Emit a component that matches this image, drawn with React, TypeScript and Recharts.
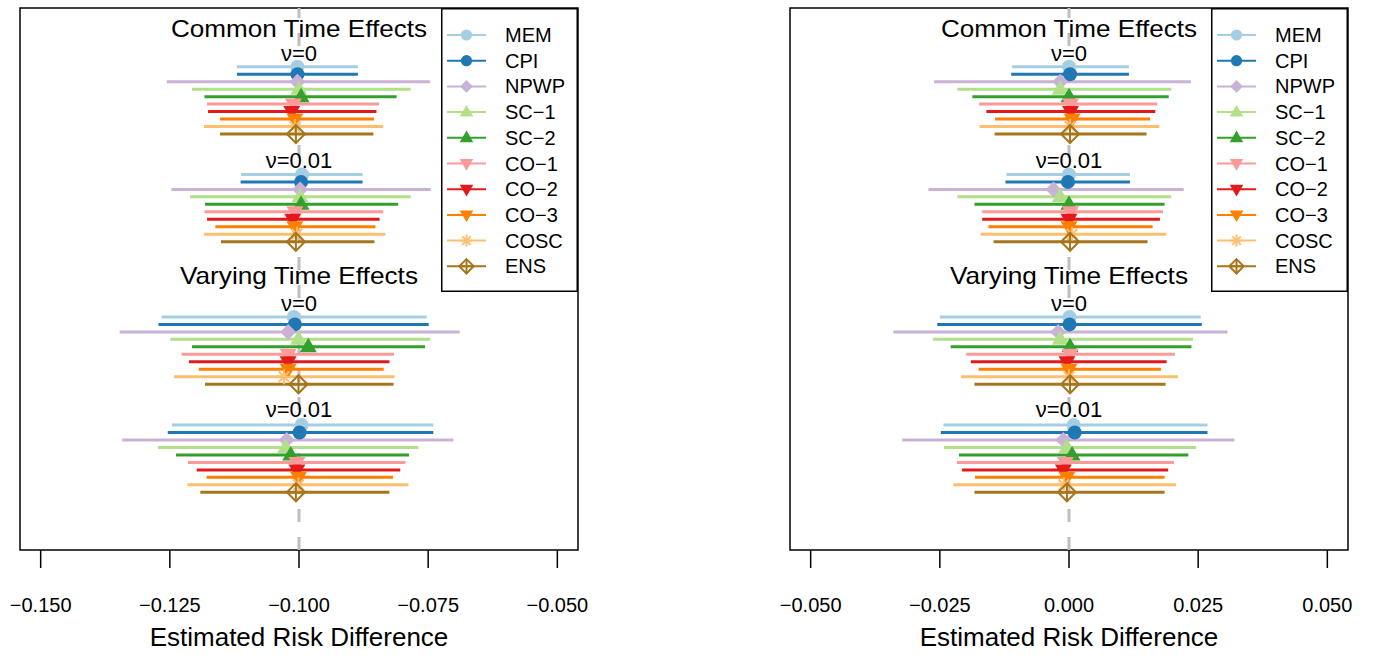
import React from 'react';
import {
  ScatterChart,
  Scatter,
  XAxis,
  YAxis,
  ErrorBar,
  ReferenceLine,
  ReferenceArea,
  Legend,
  Label,
} from 'recharts';

// estimators, colours and plotting symbols (R pch style)
const ESTIMATORS = ['MEM', 'CPI', 'NPWP', 'SC\u22121', 'SC\u22122', 'CO\u22121', 'CO\u22122', 'CO\u22123', 'COSC', 'ENS'];
const COLORS = ['#A6CEE3', '#1F78B4', '#CAB2D6', '#B2DF8A', '#33A02C', '#FB9A99', '#E31A1C', '#FF7F00', '#FDBF6F', '#A6761D'];
const SHAPES = ['circle', 'circle', 'diamond', 'triUp', 'triUp', 'triDown', 'triDown', 'triDown', 'star', 'diamondPlus'];

const SECTION_TITLES = ['Common Time Effects', 'Varying Time Effects'];
const NU_LABELS = ['\u03bd=0', '\u03bd=0.01'];

// left panel: true risk difference -0.1
// groups: common nu=0, common nu=0.01, varying nu=0, varying nu=0.01
const LEFT_EST = [
  [-0.1003, -0.1003, -0.1003, -0.1, -0.0996, -0.1011, -0.1014, -0.1008, -0.1008, -0.1006],
  [-0.0994, -0.0996, -0.0998, -0.0998, -0.0996, -0.1008, -0.1012, -0.1008, -0.1004, -0.1006],
  [-0.101, -0.1008, -0.1021, -0.1001, -0.0982, -0.1021, -0.1021, -0.1021, -0.1029, -0.1001],
  [-0.0995, -0.0999, -0.1024, -0.1026, -0.1016, -0.1004, -0.1004, -0.1001, -0.1001, -0.1006],
];
const LEFT_LO = [
  [-0.112, -0.112, -0.1256, -0.1207, -0.1183, -0.1178, -0.1176, -0.1153, -0.1184, -0.1153],
  [-0.1112, -0.1113, -0.1247, -0.1211, -0.1182, -0.1183, -0.1178, -0.1162, -0.1184, -0.1151],
  [-0.1266, -0.1272, -0.1347, -0.1249, -0.1207, -0.1227, -0.1213, -0.1194, -0.1242, -0.1182],
  [-0.1246, -0.1254, -0.1342, -0.1273, -0.1238, -0.1215, -0.1198, -0.1179, -0.1216, -0.1191],
];
const LEFT_HI = [
  [-0.0886, -0.0886, -0.0746, -0.0784, -0.0811, -0.0845, -0.085, -0.0855, -0.0837, -0.0856],
  [-0.0877, -0.0877, -0.0745, -0.0784, -0.0808, -0.0837, -0.0844, -0.0852, -0.0833, -0.0854],
  [-0.0753, -0.0749, -0.0689, -0.0746, -0.0756, -0.0816, -0.0825, -0.0836, -0.0815, -0.0817],
  [-0.074, -0.074, -0.0701, -0.0769, -0.0787, -0.0794, -0.0804, -0.0818, -0.0788, -0.0825],
];

// right panel: true risk difference 0
const RIGHT_EST = [
  [0.0, 0.0002, -0.0017, -0.0017, 0.0, 0.0003, 0.0003, 0.0006, 0.0002, 0.0002],
  [0.0, -0.0002, -0.003, -0.0017, 0.0, 0.0003, 0.0, 0.0, 0.0006, 0.0002],
  [0.0001, 0.0001, -0.0021, -0.0017, 0.0002, 0.0002, -0.0004, 0.0, 0.0, 0.0002],
  [0.0009, 0.0011, -0.0011, -0.0004, 0.0006, -0.0007, -0.0011, -0.0004, -0.001, -0.0004],
];
const RIGHT_LO = [
  [-0.011, -0.0112, -0.0261, -0.0216, -0.0187, -0.0174, -0.016, -0.0143, -0.0173, -0.0144],
  [-0.0121, -0.0123, -0.0272, -0.0216, -0.0183, -0.0168, -0.0168, -0.0156, -0.0171, -0.0146],
  [-0.025, -0.0255, -0.034, -0.0263, -0.0229, -0.0199, -0.019, -0.0175, -0.0209, -0.0183],
  [-0.0243, -0.0248, -0.0323, -0.0242, -0.0213, -0.0217, -0.0207, -0.0182, -0.0224, -0.0183],
];
const RIGHT_HI = [
  [0.0116, 0.0116, 0.0236, 0.0198, 0.0193, 0.0171, 0.0167, 0.0157, 0.0175, 0.015],
  [0.0118, 0.0118, 0.0222, 0.0198, 0.0185, 0.0182, 0.0176, 0.0162, 0.0188, 0.0152],
  [0.0255, 0.0257, 0.0307, 0.024, 0.0237, 0.0205, 0.0189, 0.0178, 0.0211, 0.0187],
  [0.0268, 0.0268, 0.032, 0.0246, 0.0231, 0.0203, 0.0192, 0.0185, 0.0207, 0.0185],
];

const LEFT_TICKS = [-0.15, -0.125, -0.1, -0.075, -0.05];
const RIGHT_TICKS = [-0.05, -0.025, 0, 0.025, 0.05];

// layout (row units on the y axis, top to bottom)
const Y_MAX = 72.46;
const GROUP_ROW = [7.85, 22.25, 41.3, 55.75];
const TITLE_ROW = [2.67, 35.76];
const TITLE_LEN = [256, 238];
const NU_ROW = [6.08, 20.27, 39.5, 53.68];

const FONT = '"Liberation Sans", Arial, Helvetica, sans-serif';

const fmt = (v: number) => v.toFixed(3).replace('-', '\u2212');

function Marker({ kind, cx, cy, color, s = 1 }: any) {
  if (kind === 'circle') return <circle cx={cx} cy={cy} r={7 * s} fill={color} />;
  if (kind === 'diamond') {
    const d = 8 * s;
    return <polygon points={`${cx},${cy - d} ${cx + d},${cy} ${cx},${cy + d} ${cx - d},${cy}`} fill={color} />;
  }
  if (kind === 'triUp') {
    const w = 8.5 * s;
    return <polygon points={`${cx},${cy - 9 * s} ${cx + w},${cy + 5.5 * s} ${cx - w},${cy + 5.5 * s}`} fill={color} />;
  }
  if (kind === 'triDown') {
    const w = 8.5 * s;
    return <polygon points={`${cx},${cy + 9 * s} ${cx + w},${cy - 5.5 * s} ${cx - w},${cy - 5.5 * s}`} fill={color} />;
  }
  if (kind === 'star') {
    const r = 7.5 * s;
    const q = r * 0.707;
    return (
      <g stroke={color} strokeWidth={2}>
        <line x1={cx - r} y1={cy} x2={cx + r} y2={cy} />
        <line x1={cx} y1={cy - r} x2={cx} y2={cy + r} />
        <line x1={cx - q} y1={cy - q} x2={cx + q} y2={cy + q} />
        <line x1={cx - q} y1={cy + q} x2={cx + q} y2={cy - q} />
      </g>
    );
  }
  const d = 9 * s;
  return (
    <g stroke={color} strokeWidth={2} fill="none">
      <polygon points={`${cx},${cy - d} ${cx + d},${cy} ${cx},${cy + d} ${cx - d},${cy}`} />
      <line x1={cx - d} y1={cy} x2={cx + d} y2={cy} />
      <line x1={cx} y1={cy - d} x2={cx} y2={cy + d} />
    </g>
  );
}

function LegendBox() {
  return (
    <svg width={137} height={284} style={{ display: 'block' }}>
      <rect x={0.75} y={0.75} width={135.5} height={282.5} fill="#fff" stroke="#000" strokeWidth={1.5} />
      {ESTIMATORS.map((name, i) => {
        const y = 27 + i * 25.7;
        return (
          <g key={name}>
            <line x1={6} y1={y} x2={45} y2={y} stroke={COLORS[i]} strokeWidth={2} />
            <Marker kind={SHAPES[i]} cx={25.5} cy={y} color={COLORS[i]} s={0.8} />
            <text x={64} y={y + 7} fontSize={20} fontFamily={FONT} fill="#000">
              {name}
            </text>
          </g>
        );
      })}
    </svg>
  );
}

const Tick = (props: any) => {
  const { x, y, payload } = props;
  return (
    <text x={x} y={y + 42} textAnchor="middle" fontSize={20} fontFamily={FONT} fill="#000">
      {fmt(payload.value)}
    </text>
  );
};

const AxisTitle = (props: any) => {
  const vb = props.viewBox || {};
  return (
    <text x={vb.x + vb.width / 2} y={vb.y + 96} textAnchor="middle" fontSize={26} fontFamily={FONT} fill="#000">
      Estimated Risk Difference
    </text>
  );
};

function Panel({ left, truth, ticks, est, lo, hi }: any) {
  const domain: [number, number] = [ticks[0] - 0.004, ticks[ticks.length - 1] + 0.004];

  const labels = [
    ...SECTION_TITLES.map((t, i) => ({ x: truth, y: TITLE_ROW[i], text: t, size: 24, len: TITLE_LEN[i] })),
    ...NU_ROW.map((r, i) => ({ x: truth, y: r, text: NU_LABELS[i % 2], size: 22, len: 0 })),
  ];

  return (
    <div style={{ position: 'absolute', left, top: 0 }}>
      <ScatterChart width={600} height={656} margin={{ top: 8, right: 22, bottom: 0, left: 20 }}>
        <XAxis
          type="number"
          dataKey="x"
          domain={domain}
          allowDataOverflow
          ticks={ticks}
          interval={0}
          axisLine={false}
          tickSize={18}
          tickLine={{ stroke: '#000', strokeWidth: 1.5 }}
          tick={<Tick />}
          height={106}
        >
          <Label content={<AxisTitle />} />
        </XAxis>
        <YAxis type="number" dataKey="y" domain={[0, Y_MAX]} reversed hide allowDataOverflow />
        <Scatter
          data={labels}
          isAnimationActive={false}
          legendType="none"
          shape={(p: any) => (
            <text
              x={p.cx}
              y={p.cy + p.payload.size * 0.36}
              textAnchor="middle"
              fontSize={p.payload.size}
              fontFamily={FONT}
              fill="#000"
              {...(p.payload.len ? { textLength: p.payload.len, lengthAdjust: 'spacingAndGlyphs' } : {})}
            >
              {p.payload.text}
            </text>
          )}
        />
        <ReferenceLine
          segment={[{ x: truth, y: Y_MAX }, { x: truth, y: 0 }]}
          stroke="#BEBEBE"
          strokeWidth={3}
          strokeDasharray="13 15"
          ifOverflow="visible"
        />
        {ESTIMATORS.map((name, i) => {
          const data = GROUP_ROW.map((row, g) => ({
            x: est[g][i],
            y: row + i,
            err: [est[g][i] - lo[g][i], hi[g][i] - est[g][i]],
          }));
          return (
            <Scatter
              key={name}
              name={name}
              data={data}
              fill={COLORS[i]}
              isAnimationActive={false}
              shape={(p: any) => <Marker kind={SHAPES[i]} cx={p.cx} cy={p.cy} color={COLORS[i]} />}
            >
              <ErrorBar
                dataKey="err"
                direction="x"
                width={0}
                stroke={COLORS[i]}
                strokeWidth={3}
                isAnimationActive={false}
              />
            </Scatter>
          );
        })}
        <ReferenceArea
          x1={domain[0]}
          x2={domain[1]}
          y1={0}
          y2={Y_MAX}
          fill="none"
          stroke="#000"
          strokeWidth={1.5}
          ifOverflow="visible"
        />
        <Legend
          layout="horizontal"
          align="center"
          verticalAlign="middle"
          content={() => <LegendBox />}
          wrapperStyle={{ left: 441, top: 8, width: 137, height: 284 }}
        />
      </ScatterChart>
    </div>
  );
}

export default function App() {
  return (
    <div style={{ position: 'absolute', left: 0, top: 0, width: 1373, height: 656, background: '#fff' }}>
      <Panel left={0} truth={-0.1} ticks={LEFT_TICKS} est={LEFT_EST} lo={LEFT_LO} hi={LEFT_HI} />
      <Panel left={770} truth={0} ticks={RIGHT_TICKS} est={RIGHT_EST} lo={RIGHT_LO} hi={RIGHT_HI} />
    </div>
  );
}
